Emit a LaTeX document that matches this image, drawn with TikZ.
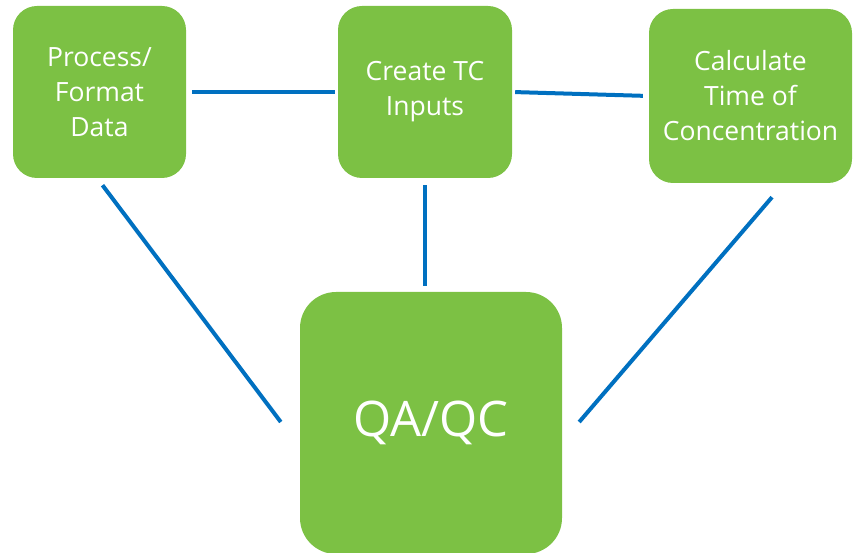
\documentclass[tikz,border=0pt]{standalone}
\usepackage{fontspec}
\setmainfont{Open Sans}
\usepackage{tikz}
\usetikzlibrary{positioning, calc}
\definecolor{boxgreen}{RGB}{124, 193, 68}
\definecolor{linkblue}{RGB}{0, 112, 192}

\begin{document}
\begin{tikzpicture}[x=1pt, y=-1pt,
  stepbox/.style={fill=boxgreen, draw=none, rounded corners=24pt, text=white, align=center,
    inner sep=0pt, font=\fontsize{26.5}{35}\selectfont},
  link/.style={draw=linkblue, line width=4pt}]
  \useasboundingbox (0,0) rectangle (854,553);

  % top row
  \node[stepbox, minimum width=173pt, minimum height=172pt] (proc) at (99.5, 92) {Process/\\Format\\Data};
  \node[stepbox, minimum width=174pt, minimum height=172pt] (create) at (425, 92) {Create TC\\Inputs};
  \node[stepbox, minimum width=203pt, minimum height=174pt] (calc) at (750.5, 96) {Calculate\\Time of\\Concentration};

  % bottom box
  \node[stepbox, minimum width=262pt, minimum height=262pt, rounded corners=36pt,
    font=\fontsize{49}{58}\selectfont] (qa) at (431, 423) {QA/QC};

  % connectors
  \draw[link, shorten <=6pt, shorten >=3pt] (proc.east) -- (create.west);
  \draw[link, shorten <=3pt, shorten >=6pt] (create.east) -- (calc.west);
  \draw[link, shorten <=7pt, shorten >=6pt] (create.south) -- (create.south |- qa.north);
  \draw[link] ([shift={(3,7)}]proc.south) -- ([shift={(-19,-1)}]qa.west);
  \draw[link] ([shift={(21.5,14)}]calc.south) -- ([shift={(17,-1)}]qa.east);
\end{tikzpicture}
\end{document}
